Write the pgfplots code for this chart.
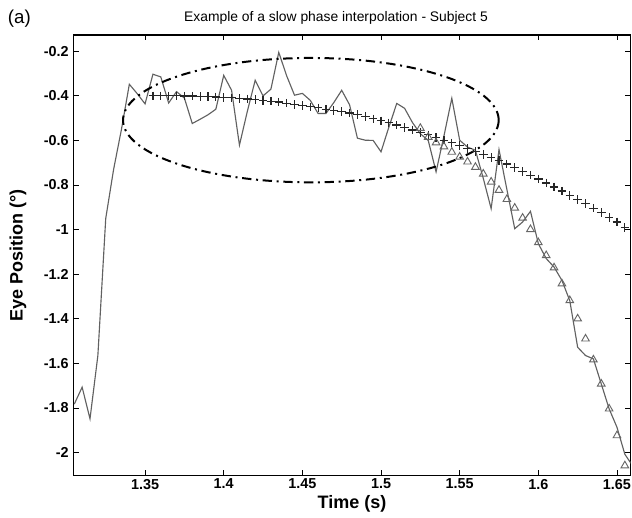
\documentclass[border=0pt]{standalone}
\usepackage{pgfplots}
\pgfplotsset{compat=1.18}
\usepackage{pgfplotstable}
\usepackage{fontspec}
\setmainfont{Liberation Sans}

\pgfplotstableread{
t v
1.305 -1.783
1.310 -1.707
1.315 -1.849
1.320 -1.565
1.325 -0.950
1.330 -0.730
1.335 -0.550
1.340 -0.348
1.345 -0.390
1.350 -0.436
1.355 -0.303
1.360 -0.315
1.365 -0.432
1.370 -0.381
1.375 -0.410
1.380 -0.524
1.385 -0.505
1.390 -0.485
1.395 -0.460
1.400 -0.308
1.405 -0.375
1.410 -0.621
1.415 -0.470
1.420 -0.330
1.425 -0.400
1.430 -0.370
1.435 -0.205
1.440 -0.310
1.445 -0.397
1.450 -0.389
1.455 -0.420
1.460 -0.479
1.465 -0.479
1.470 -0.430
1.475 -0.375
1.480 -0.440
1.485 -0.590
1.490 -0.599
1.495 -0.600
1.500 -0.651
1.505 -0.540
1.510 -0.434
1.515 -0.456
1.520 -0.520
1.525 -0.570
1.530 -0.600
1.535 -0.741
1.540 -0.580
1.545 -0.411
1.550 -0.599
1.555 -0.630
1.560 -0.644
1.565 -0.770
1.570 -0.906
1.575 -0.641
1.580 -0.820
1.585 -0.996
1.590 -0.966
1.595 -0.918
1.600 -1.063
1.605 -1.130
1.610 -1.168
1.615 -1.228
1.620 -1.319
1.625 -1.528
1.630 -1.565
1.635 -1.580
1.640 -1.692
1.645 -1.804
1.650 -1.887
1.655 -2.008
1.660 -2.060
}\rawdata

\pgfplotstableread{
t v
1.355 -0.400
1.360 -0.400
1.365 -0.400
1.370 -0.400
1.375 -0.401
1.380 -0.401
1.385 -0.402
1.390 -0.403
1.395 -0.405
1.400 -0.407
1.405 -0.409
1.410 -0.411
1.415 -0.414
1.420 -0.417
1.425 -0.420
1.430 -0.424
1.435 -0.428
1.440 -0.433
1.445 -0.438
1.450 -0.443
1.455 -0.449
1.460 -0.454
1.465 -0.460
1.470 -0.465
1.475 -0.471
1.480 -0.477
1.485 -0.484
1.490 -0.492
1.495 -0.503
1.500 -0.512
1.505 -0.521
1.510 -0.531
1.515 -0.542
1.520 -0.553
1.525 -0.564
1.530 -0.575
1.535 -0.587
1.540 -0.599
1.545 -0.611
1.550 -0.623
1.555 -0.636
1.560 -0.649
1.565 -0.663
1.570 -0.677
1.575 -0.691
1.580 -0.706
1.585 -0.722
1.590 -0.739
1.595 -0.756
1.600 -0.773
1.605 -0.791
1.610 -0.809
1.615 -0.827
1.620 -0.846
1.625 -0.865
1.630 -0.884
1.635 -0.904
1.640 -0.924
1.645 -0.945
1.650 -0.966
1.655 -0.990
}\splinedata

\pgfplotstableread{
t v
1.525 -0.545
1.530 -0.585
1.535 -0.610
1.540 -0.628
1.545 -0.652
1.550 -0.674
1.555 -0.696
1.560 -0.720
1.565 -0.750
1.570 -0.786
1.575 -0.823
1.580 -0.864
1.585 -0.903
1.590 -0.948
1.595 -0.999
1.600 -1.058
1.605 -1.116
1.610 -1.171
1.615 -1.243
1.620 -1.318
1.625 -1.400
1.630 -1.490
1.635 -1.584
1.640 -1.692
1.645 -1.804
1.650 -1.924
1.655 -2.059
}\interpdata

\begin{document}
\begin{tikzpicture}
\useasboundingbox (-55pt,-31.7pt) rectangle (419pt,356.75pt);
\begin{axis}[
  at={(0pt,0pt)}, anchor=south west,
  scale only axis, width=418pt, height=330.5pt,
  xmin=1.3044, xmax=1.6587, ymin=-2.104, ymax=-0.127,
  xtick={1.35,1.4,1.45,1.5,1.55,1.6,1.65},
  xticklabels={1.35,1.4,1.45,1.5,1.55,1.6,1.65},
  ytick={-2,-1.8,-1.6,-1.4,-1.2,-1,-0.8,-0.6,-0.4,-0.2},
  yticklabels={-2,-1.8,-1.6,-1.4,-1.2,-1,-0.8,-0.6,-0.4,-0.2},
  tick align=inside, tick pos=both,
  major tick length=4pt,
  every tick/.style={black, line width=0.6pt},
  axis line style={black, line width=0.9pt},
  ticklabel style={font=\bfseries\fontsize{10.8}{12}\selectfont},
  xticklabel style={yshift=1pt},
  xlabel={Time (s)}, ylabel={Eye Position (°)},
  label style={font=\bfseries\fontsize{13.5}{15}\selectfont},
  xlabel style={at={(axis description cs:0.5,0)}, anchor=center, yshift=-21.5pt},
  ylabel style={at={([xshift=-41.5pt]axis description cs:0,0.5)}, anchor=center},
  clip=true,
]
\addplot[color=black!62, line width=0.85pt, mark=none] table[x=t, y=v] {\rawdata};
\addplot[only marks, mark=+, mark size=3.2pt, mark options={black!85, line width=0.9pt}] table[x=t, y=v] {\splinedata};
\addplot[only marks, mark=triangle, mark size=3.3pt, mark options={black!60, line width=0.7pt}] table[x=t, y=v] {\interpdata};
\draw[black, line width=1.5pt, dash pattern=on 7pt off 3.5pt on 1.5pt off 3.5pt] (axis cs:1.4554,-0.509) ellipse [x radius=0.1194, y radius=0.279];
\end{axis}
\node[font=\fontsize{10.4}{12}\selectfont] at (197pt,343.3pt) {Example of a slow phase interpolation - Subject 5};
\node[font=\fontsize{14}{16}\selectfont] at (-40.5pt,343pt) {(a)};
\end{tikzpicture}
\end{document}
